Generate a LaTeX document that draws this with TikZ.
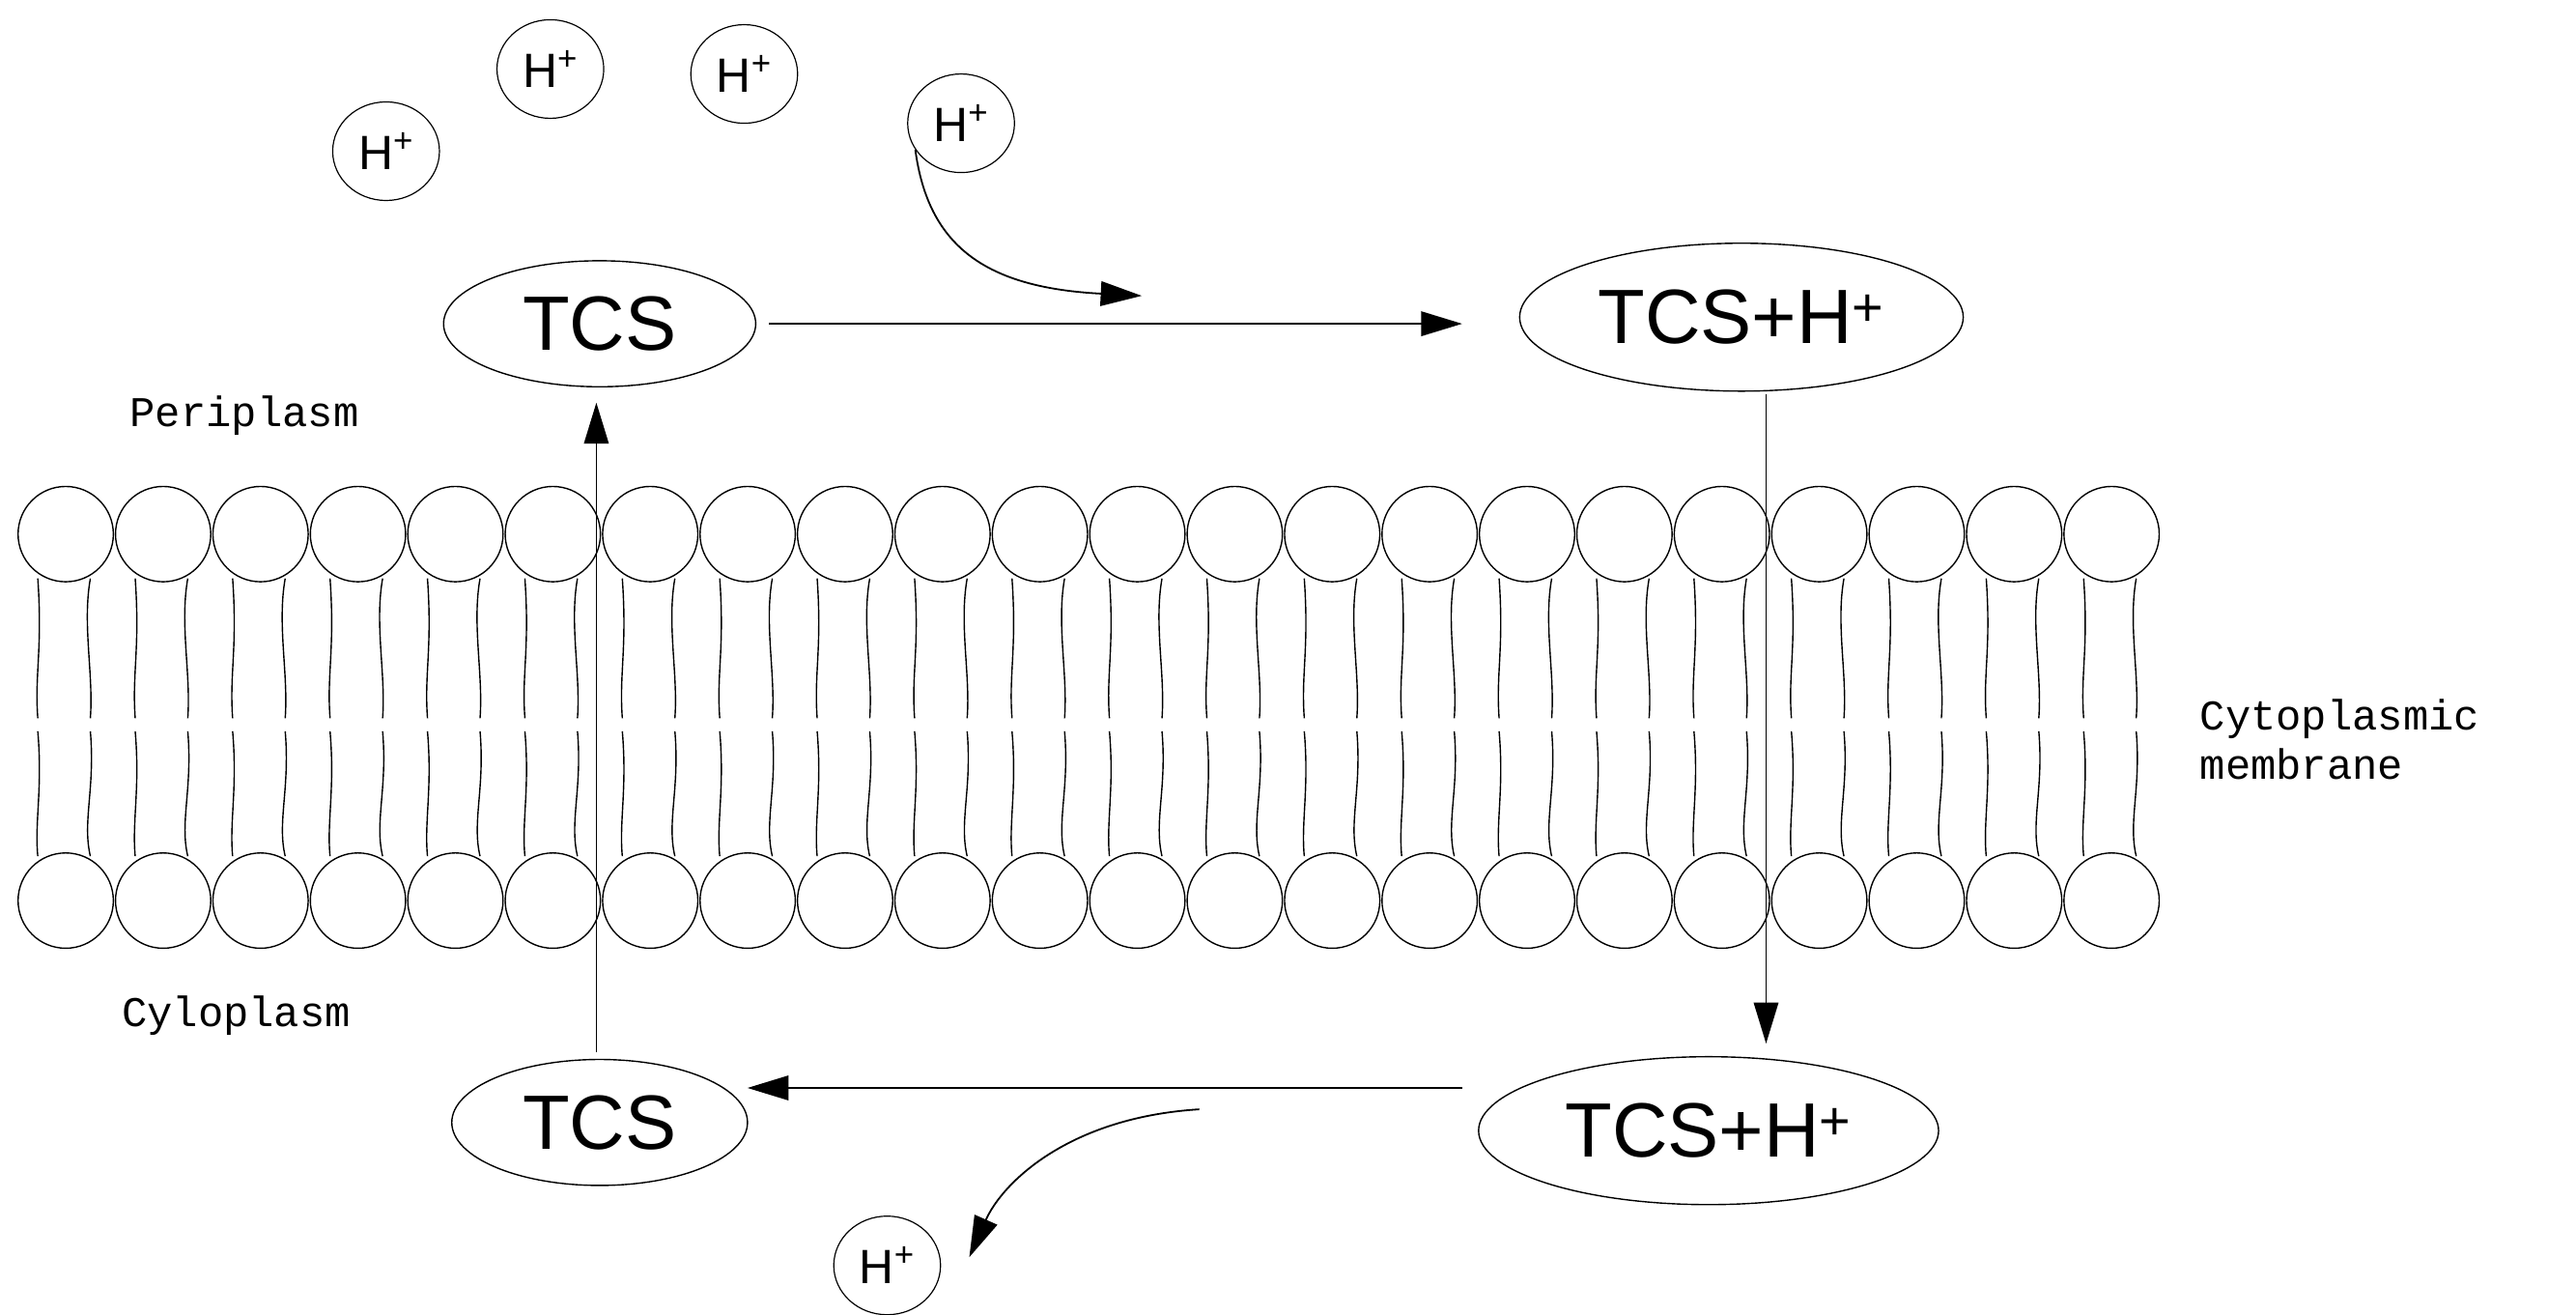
\documentclass[tikz,border=0pt]{standalone}
\usepackage{fontspec}
\setmainfont{Liberation Sans}
\newfontfamily\labfont{Liberation Mono}
\usetikzlibrary{shapes.geometric,arrows.meta}
\begin{document}
\begin{tikzpicture}[x=0.3mm,y=-0.3mm,
  hp/.style={ellipse,draw,line width=0.6pt,inner sep=0,minimum width=19.5mm,minimum height=18mm,font=\fontsize{25}{25}\selectfont},
  tcs/.style={ellipse,draw,line width=0.7pt,inner sep=0,font=\fontsize{40}{40}\selectfont},
  arr/.style={line width=0.9pt,-{Triangle[length=7.5mm,width=4.5mm]}},
  lab/.style={font=\labfont\fontsize{22}{26}\selectfont,align=left},
  lip/.style={line width=0.7pt}]
\useasboundingbox (0,0) rectangle (1568,800);
% membrane
\foreach \i in {0,...,21}{
  \pgfmathsetmacro{\c}{40+59.3*\i}
  \draw[lip] (\c,325) circle[radius=29];
  \draw[lip] (\c,548) circle[radius=29];
  \draw[lip] (\c-17,352) .. controls (\c-14,395) and (\c-19,410) .. (\c-17,437);
  \draw[lip] (\c+15,352) .. controls (\c+10,380) and (\c+17,410) .. (\c+15,437);
  \draw[lip] (\c-17,445) .. controls (\c-14,480) and (\c-19,500) .. (\c-17,521);
  \draw[lip] (\c+15,445) .. controls (\c+18,480) and (\c+10,500) .. (\c+15,521);
}
% protons
\node[hp] (h1) at (235,92) {H\textsuperscript{+}};
\node[hp] (h2) at (335,42) {H\textsuperscript{+}};
\node[hp] (h3) at (453,45) {H\textsuperscript{+}};
\node[hp] (h4) at (585,75) {H\textsuperscript{+}};
\node[hp] (h5) at (540,770) {H\textsuperscript{+}};
% TCS nodes
\node[tcs,minimum width=57mm,minimum height=23mm] (t1) at (365,197) {TCS};
\node[tcs,minimum width=81mm,minimum height=27mm] (t2) at (1060,193) {TCS+H\textsuperscript{+}};
\node[tcs,minimum width=54mm,minimum height=23mm] (t3) at (365,683) {TCS};
\node[tcs,minimum width=84mm,minimum height=27mm] (t4) at (1040,688) {TCS+H\textsuperscript{+}};
% arrows
\coordinate (a1) at (468,197);
\coordinate (a2) at (890,197);
\draw[arr] (a1) -- (a2);
\coordinate (c1) at (695,180);
\draw[arr] (h4.-150) .. controls (565,150) and (600,175) .. (c1);
\draw[arr] (t3.north -| 363,0) ++(0,-43) coordinate (u0) (363,640) -- (363,245);
\draw[arr] (1075,240) -- (1075,635);
\coordinate (b1) at (890,662);
\coordinate (b2) at (455,662);
\draw[arr] (b1) -- (b2);
\coordinate (d1) at (730,675);
\coordinate (d2) at (590,765);
\draw[arr] (d1) .. controls (650,680) and (610,720) .. (d2);
% labels
\node[lab,anchor=west] (p) at (75,253) {Periplasm};
\node[lab,anchor=west] (cy) at (70,618) {Cyloplasm};
\node[lab,anchor=west] (m) at (1335,450) {Cytoplasmic\\membrane};
\end{tikzpicture}
\end{document}
